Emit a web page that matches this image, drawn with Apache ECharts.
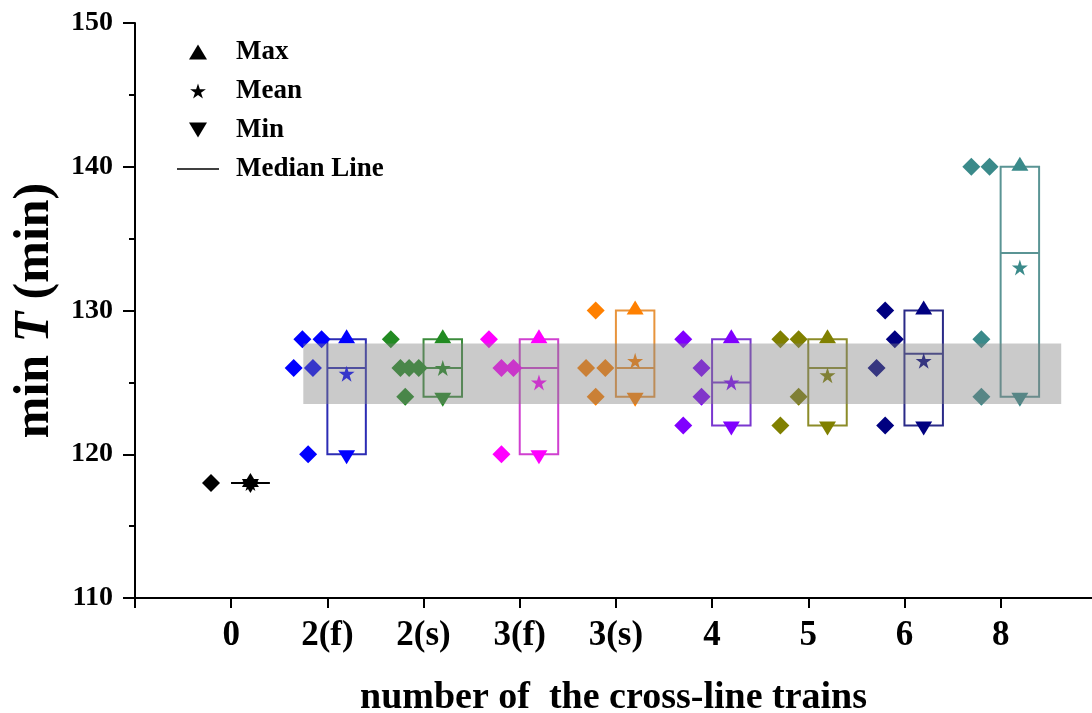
<!DOCTYPE html>
<html>
<head>
    <meta charset="utf-8" />
    <title>min T</title>
    <script src="https://cdn.jsdelivr.net/npm/echarts@6/dist/echarts.min.js"></script>
</head>
<body style="margin:0">
    <div id="main" style="width:1092px;height:713px;"></div>
    <script type="text/javascript">
        var categories = ['0', '2(f)', '2(s)', '3(f)', '3(s)', '4', '5', '6', '8'];

        // min T values of each group (min)
        var vals0 = [118];
        var vals2f = [128, 128, 126, 126, 120];
        var vals2s = [128, 126, 126, 126, 124];
        var vals3f = [128, 126, 126, 120];
        var vals3s = [130, 126, 126, 124];
        var vals4 = [128, 126, 124, 122];
        var vals5 = [128, 128, 124, 122];
        var vals6 = [130, 128, 126, 122];
        var vals8 = [140, 140, 128, 124];

        // horizontal spread of the raw points, left of each tick
        var jit0 = [-0.21];
        var jit2f = [-0.26, -0.06, -0.35, -0.15, -0.20];
        var jit2s = [-0.34, -0.24, -0.15, -0.05, -0.19];
        var jit3f = [-0.32, -0.19, -0.065, -0.19];
        var jit3s = [-0.21, -0.31, -0.11, -0.21];
        var jit4 = [-0.30, -0.11, -0.11, -0.30];
        var jit5 = [-0.29, -0.10, -0.10, -0.29];
        var jit6 = [-0.20, -0.10, -0.29, -0.20];
        var jit8 = [-0.305, -0.115, -0.20, -0.20];

        var colors = ['#000000', '#0000ff', '#228b22', '#ff00ff', '#ff8000', '#8000ff', '#808000', '#000080', '#3a8a8a'];
        var boxColors = ['#000000', '#2c2cb4', '#3c8c3c', '#d040d0', '#e8943c', '#7a36d0', '#8c8c28', '#2a2a88', '#5a9494'];

        // shaded band
        var bandX = [0.75, 8.63];
        var bandY = [123.5, 127.7];

        var values = [vals0, vals2f, vals2s, vals3f, vals3s, vals4, vals5, vals6, vals8];
        var jitters = [jit0, jit2f, jit2s, jit3f, jit3s, jit4, jit5, jit6, jit8];

        var font = 'Liberation Serif';
        var BOXW = 0.4;

        var pts = [], maxD = [], meanD = [], minD = [], boxD = [];
        for (var i = 0; i < values.length; i++) {
            var v = values[i];
            var s = v.slice().sort(function (a, b) { return a - b; });
            var n = s.length;
            var med = n % 2 ? s[(n - 1) / 2] : (s[n / 2 - 1] + s[n / 2]) / 2;
            var sum = 0;
            for (var j = 0; j < n; j++) {
                sum += v[j];
                pts.push({ value: [i + jitters[i][j], v[j]], itemStyle: { color: colors[i] } });
            }
            maxD.push({ value: [i + BOXW / 2, s[n - 1]], itemStyle: { color: colors[i] } });
            minD.push({ value: [i + BOXW / 2, s[0]], itemStyle: { color: colors[i] } });
            meanD.push({ value: [i + BOXW / 2, sum / n], itemStyle: { color: colors[i] } });
            boxD.push([i, s[0], s[n - 1], med]);
        }

        var starPath = 'path://M5,0 L6.18,3.62 L10,3.62 L6.91,5.86 L8.09,9.5 L5,7.25 L1.91,9.5 L3.09,5.86 L0,3.62 L3.82,3.62 Z';
        var upTri = 'path://M6,0 L12,10 L0,10 Z';
        var downTri = 'path://M0,0 L12,0 L6,10 Z';
        var lineIcon = 'path://M0,0 L42,0 L42,1.6 L0,1.6 Z';

        var myChart = echarts.init(document.getElementById('main'));
        var option = {
            backgroundColor: '#fff',
            animation: false,
            textStyle: { fontFamily: font },
            grid: { left: 135, right: 0, top: 23, bottom: 115, outerBoundsMode: 'none', containLabel: false },
            legend: {
                orient: 'vertical',
                left: 172,
                top: 33,
                itemWidth: 42,
                itemHeight: 15,
                itemGap: 11,
                symbolKeepAspect: true,
                data: ['Max', 'Mean', 'Min', 'Median Line'],
                textStyle: { fontFamily: font, fontWeight: 'bold', fontSize: 27, color: '#000', lineHeight: 28, padding: [0, 0, 0, 12] }
            },
            xAxis: {
                type: 'value',
                min: -1,
                max: 8.95,
                interval: 1,
                splitLine: { show: false },
                axisLine: { onZero: false, lineStyle: { color: '#000', width: 2 } },
                axisTick: { length: 10, lineStyle: { color: '#000', width: 2 } },
                axisLabel: {
                    margin: 20, color: '#000', fontFamily: font, fontWeight: 'bold', fontSize: 35,
                    showMaxLabel: false,
                    formatter: function (val) { return categories[val] !== undefined ? categories[val] : ''; }
                },
                name: 'number of  the cross-line trains',
                nameLocation: 'middle',
                nameGap: 81,
                nameTextStyle: { color: '#000', fontFamily: font, fontWeight: 'bold', fontSize: 38 }
            },
            yAxis: {
                type: 'value',
                min: 110,
                max: 150,
                interval: 10,
                splitLine: { show: false },
                axisLine: { show: true, onZero: false, lineStyle: { color: '#000', width: 2 } },
                axisTick: { length: 12, lineStyle: { color: '#000', width: 2 } },
                minorTick: { show: true, splitNumber: 2, length: 6, lineStyle: { color: '#000', width: 2 } },
                axisLabel: { margin: 22, color: '#000', fontFamily: font, fontWeight: 'bold', fontSize: 28 },
                name: '{a|min }{b|T}{a| (min)}',
                nameLocation: 'middle',
                nameGap: 72,
                nameTextStyle: {
                    rich: {
                        a: { fontFamily: font, fontWeight: 'bold', fontSize: 50, color: '#000' },
                        b: { fontFamily: font, fontWeight: 'bold', fontStyle: 'italic', fontSize: 50, color: '#000' }
                    }
                }
            },
            series: [
                {
                    name: 'points',
                    type: 'scatter',
                    symbol: 'diamond',
                    symbolSize: 18,
                    itemStyle: { opacity: 1 },
                    z: 2,
                    data: pts
                },
                {
                    name: 'boxes',
                    type: 'custom',
                    z: 2,
                    renderItem: function (params, api) {
                        var x = api.value(0);
                        var c = boxColors[params.dataIndex];
                        var p1 = api.coord([x, api.value(2)]);
                        var p2 = api.coord([x + BOXW, api.value(1)]);
                        var m1 = api.coord([x, api.value(3)]);
                        var m2 = api.coord([x + BOXW, api.value(3)]);
                        return {
                            type: 'group',
                            children: [
                                { type: 'rect', shape: { x: p1[0], y: p1[1], width: p2[0] - p1[0], height: p2[1] - p1[1] }, style: { fill: 'none', stroke: c, lineWidth: 2 } },
                                { type: 'line', shape: { x1: m1[0], y1: m1[1], x2: m2[0], y2: m2[1] }, style: { stroke: c, lineWidth: 2 } }
                            ]
                        };
                    },
                    data: boxD
                },
                {
                    name: 'Max',
                    type: 'scatter',
                    symbol: upTri,
                    symbolSize: [17, 14],
                    symbolOffset: [0, -3],
                    itemStyle: { color: '#000', opacity: 1 },
                    z: 3,
                    data: maxD
                },
                {
                    name: 'Mean',
                    type: 'scatter',
                    symbol: starPath,
                    symbolSize: 16,
                    itemStyle: { color: '#000', opacity: 1 },
                    z: 3,
                    data: meanD
                },
                {
                    name: 'Min',
                    type: 'scatter',
                    symbol: downTri,
                    symbolSize: [17, 14],
                    symbolOffset: [0, 3],
                    itemStyle: { color: '#000', opacity: 1 },
                    z: 3,
                    data: minD
                },
                {
                    name: 'Median Line',
                    type: 'scatter',
                    symbol: lineIcon,
                    itemStyle: { color: '#000', opacity: 1 },
                    data: []
                },
                {
                    name: 'band',
                    type: 'custom',
                    z: 10,
                    silent: true,
                    renderItem: function (params, api) {
                        var a = api.coord([api.value(0), api.value(3)]);
                        var b = api.coord([api.value(1), api.value(2)]);
                        return { type: 'rect', shape: { x: a[0], y: a[1], width: b[0] - a[0], height: b[1] - a[1] }, style: { fill: 'rgba(128,128,128,0.42)' } };
                    },
                    data: [[bandX[0], bandX[1], bandY[0], bandY[1]]]
                }
            ]
        };
        myChart.setOption(option);
    </script>
</body>
</html>
